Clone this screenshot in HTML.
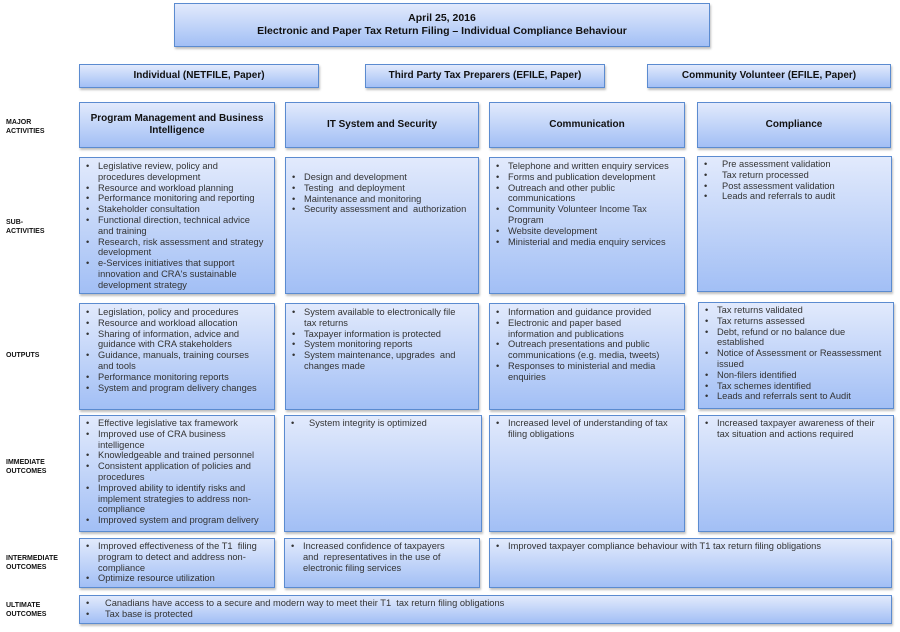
<!DOCTYPE html>
<html><head><meta charset="utf-8"><style>
body{margin:0;width:900px;height:632px;background:#fff;position:relative;font-family:"Liberation Sans",sans-serif;color:#333;overflow:hidden}
.b{position:absolute;box-sizing:border-box;border:1.5px solid #5b8bd0;background:linear-gradient(#e2eafc,#a2bff5);box-shadow:1px 2px 2px rgba(0,0,0,.25)}
.h{display:flex;align-items:center;justify-content:center;text-align:center;font-weight:bold;color:#111;font-size:10px;line-height:12px}
.lab{position:absolute;left:6px;font-size:7px;font-weight:bold;color:#111;line-height:9px}
ul{margin:0;padding:0;list-style:none;font-size:9.3px;line-height:10.8px;white-space:nowrap}
li{position:relative;padding-left:18px}
li:before{content:"•";position:absolute;left:6px}
</style></head><body>
<div class="b h" style="left:174px;top:3px;width:536px;height:44px;line-height:13px;font-size:10.5px">April 25, 2016<br>Electronic and Paper Tax Return Filing – Individual Compliance Behaviour</div>
<div class="b h" style="left:79px;top:64px;width:240px;height:24px">Individual (NETFILE, Paper)</div>
<div class="b h" style="left:365px;top:64px;width:240px;height:24px">Third Party Tax Preparers (EFILE, Paper)</div>
<div class="b h" style="left:647px;top:64px;width:244px;height:24px">Community Volunteer (EFILE, Paper)</div>

<div class="lab" style="top:118px">MAJOR<br>ACTIVITIES</div>
<div class="lab" style="top:218px">SUB-<br>ACTIVITIES</div>
<div class="lab" style="top:351px">OUTPUTS</div>
<div class="lab" style="top:458px">IMMEDIATE<br>OUTCOMES</div>
<div class="lab" style="top:554px">INTERMEDIATE<br>OUTCOMES</div>
<div class="lab" style="top:601px">ULTIMATE<br>OUTCOMES</div>

<div class="b h" style="left:79px;top:102px;width:196px;height:46px">Program Management and Business<br>Intelligence</div>
<div class="b h" style="left:285px;top:102px;width:194px;height:46px">IT System and Security</div>
<div class="b h" style="left:489px;top:102px;width:196px;height:46px">Communication</div>
<div class="b h" style="left:697px;top:102px;width:194px;height:46px">Compliance</div>

<div class="b" style="left:79px;top:157px;width:196px;height:137px;padding-top:3px"><ul>
<li>Legislative review, policy and<br>procedures development</li><li>Resource and workload planning</li><li>Performance monitoring and reporting</li><li>Stakeholder consultation</li><li>Functional direction, technical advice<br>and training</li><li>Research, risk assessment and strategy<br>development</li><li>e-Services initiatives that support<br>innovation and CRA's sustainable<br>development strategy</li></ul></div>
<div class="b" style="left:285px;top:157px;width:194px;height:137px;padding-top:14px"><ul>
<li>Design and development</li><li>Testing&nbsp; and deployment</li><li>Maintenance and monitoring</li><li>Security assessment and&nbsp; authorization</li></ul></div>
<div class="b" style="left:489px;top:157px;width:196px;height:137px;padding-top:3px"><ul>
<li>Telephone and written enquiry services</li><li>Forms and publication development</li><li>Outreach and other public<br>communications</li><li>Community Volunteer Income Tax<br>Program</li><li>Website development</li><li>Ministerial and media enquiry services</li></ul></div>
<div class="b" style="left:697px;top:156px;width:195px;height:136px;padding-top:2px"><ul>
<li style="padding-left:24px">Pre assessment validation</li><li style="padding-left:24px">Tax return processed</li><li style="padding-left:24px">Post assessment validation</li><li style="padding-left:24px">Leads and referrals to audit</li></ul></div>

<div class="b" style="left:79px;top:303px;width:196px;height:107px;padding-top:3px"><ul>
<li>Legislation, policy and procedures</li><li>Resource and workload allocation</li><li>Sharing of information, advice and<br>guidance with CRA stakeholders</li><li>Guidance, manuals, training courses<br>and tools</li><li>Performance monitoring reports</li><li>System and program delivery changes</li></ul></div>
<div class="b" style="left:285px;top:303px;width:194px;height:107px;padding-top:3px"><ul>
<li>System available to electronically file<br>tax returns</li><li>Taxpayer information is protected</li><li>System monitoring reports</li><li>System maintenance, upgrades&nbsp; and<br>changes made</li></ul></div>
<div class="b" style="left:489px;top:303px;width:196px;height:107px;padding-top:3px"><ul>
<li>Information and guidance provided</li><li>Electronic and paper based<br>information and publications</li><li>Outreach presentations and public<br>communications (e.g. media, tweets)</li><li>Responses to ministerial and media<br>enquiries</li></ul></div>
<div class="b" style="left:698px;top:302px;width:196px;height:107px;padding-top:2px"><ul>
<li>Tax returns validated</li><li>Tax returns assessed</li><li>Debt, refund or no balance due<br>established</li><li>Notice of Assessment or Reassessment<br>issued</li><li>Non-filers identified</li><li>Tax schemes identified</li><li>Leads and referrals sent to Audit</li></ul></div>

<div class="b" style="left:79px;top:415px;width:196px;height:117px;padding-top:2px"><ul>
<li>Effective legislative tax framework</li><li>Improved use of CRA business<br>intelligence</li><li>Knowledgeable and trained personnel</li><li>Consistent application of policies and<br>procedures</li><li>Improved ability to identify risks and<br>implement strategies to address non-<br>compliance</li><li>Improved system and program delivery</li></ul></div>
<div class="b" style="left:284px;top:415px;width:198px;height:117px;padding-top:2px"><ul>
<li style="padding-left:24px">System integrity is optimized</li></ul></div>
<div class="b" style="left:489px;top:415px;width:196px;height:117px;padding-top:2px"><ul>
<li>Increased level of understanding of tax<br>filing obligations</li></ul></div>
<div class="b" style="left:698px;top:415px;width:196px;height:117px;padding-top:2px"><ul>
<li>Increased taxpayer awareness of their<br>tax situation and actions required</li></ul></div>

<div class="b" style="left:79px;top:538px;width:196px;height:50px;padding-top:2px"><ul>
<li>Improved effectiveness of the T1&nbsp; filing<br>program to detect and address non-<br>compliance</li><li>Optimize resource utilization</li></ul></div>
<div class="b" style="left:284px;top:538px;width:196px;height:50px;padding-top:2px"><ul>
<li>Increased confidence of taxpayers<br>and&nbsp; representatives in the use of<br>electronic filing services</li></ul></div>
<div class="b" style="left:489px;top:538px;width:403px;height:50px;padding-top:2px"><ul>
<li>Improved taxpayer compliance behaviour with T1 tax return filing obligations</li></ul></div>

<div class="b" style="left:79px;top:595px;width:813px;height:29px;padding-top:2px"><ul>
<li style="padding-left:25px">Canadians have access to a secure and modern way to meet their T1&nbsp; tax return filing obligations</li><li style="padding-left:25px">Tax base is protected</li></ul></div>
</body></html>
